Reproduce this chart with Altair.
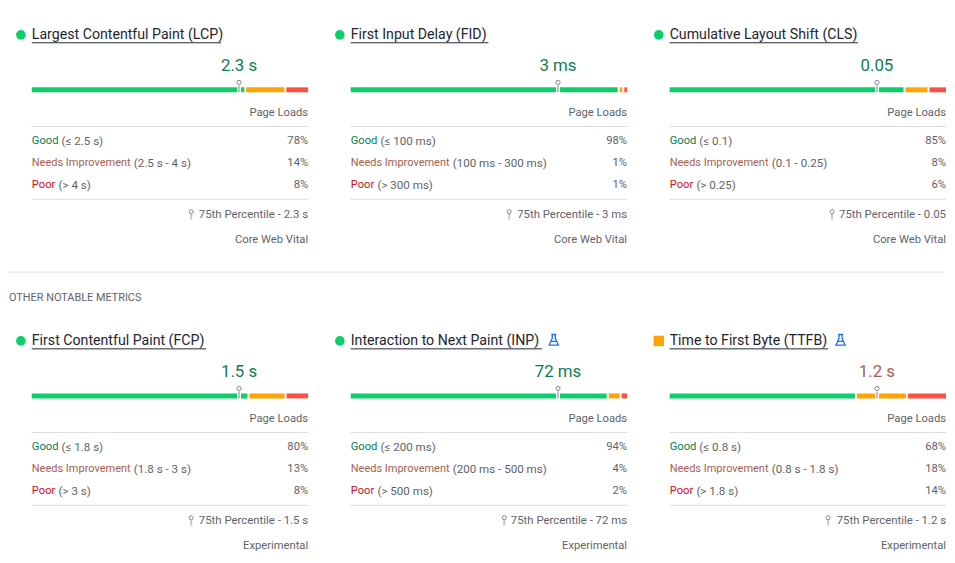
import altair as alt
import pandas as pd

titles = ["Largest Contentful Paint (LCP)", "First Input Delay (FID)", "Cumulative Layout Shift (CLS)",
          "First Contentful Paint (FCP)", "Interaction to Next Paint (INP)", "Time to First Byte (TTFB)"]
p75_values = ["2.3 s", "3 ms", "0.05", "1.5 s", "72 ms", "1.2 s"]
good_ranges = ["(≤ 2.5 s)", "(≤ 100 ms)", "(≤ 0.1)", "(≤ 1.8 s)", "(≤ 200 ms)", "(≤ 0.8 s)"]
ni_ranges = ["(2.5 s - 4 s)", "(100 ms - 300 ms)", "(0.1 - 0.25)", "(1.8 s - 3 s)", "(200 ms - 500 ms)", "(0.8 s - 1.8 s)"]
poor_ranges = ["(> 4 s)", "(> 300 ms)", "(> 0.25)", "(> 3 s)", "(> 500 ms)", "(> 1.8 s)"]
good_pct = [78, 98, 85, 80, 94, 68]
ni_pct = [14, 1, 8, 13, 4, 18]
poor_pct = [8, 1, 6, 8, 2, 14]
p75_position = [75, 75, 75, 75, 75, 75]
footers = ["Core Web Vital"] * 3 + ["Experimental"] * 3
status = ["good", "good", "good", "good", "good", "ni"]
experimental = [False, False, False, False, True, True]

# layout (pixels, not data)
PW, LEFT, GAP = 279, 23, 19
H1, H2 = 240, 234
underline_w = [191, 139, 190, 176, 193, 160]
pin_from_right = [118, 119, 115, 118, 124, 119]
flask_x = [0, 0, 0, 0, 228, 195.5]
GREEN, ORANGE, RED = "#0cce6b", "#ffa400", "#ff4e42"
T_GREEN, T_NI, T_RED, GREY, DARK, LINE = "#0d7c50", "#a5614f", "#d0101e", "#5f6368", "#1f2430", "#dadce0"
FONT = "Roboto"
x_scale = alt.Scale(domain=[-LEFT / PW * 100, 100], range=[0, PW + LEFT], nice=False, zero=False)
FLASK = "M-0.45,-1 L0.45,-1 M-0.28,-1 L-0.28,-0.3 L-0.85,0.95 L0.85,0.95 L0.28,-0.3 L0.28,-1 M-0.5,0.25 L0.5,0.25"


def X(v):
    return alt.X(datum=v, scale=x_scale, axis=None)


def text(t, y, x=100, align="right", color=GREY, size=11.3, dx=0):
    return alt.Chart(pd.DataFrame({"t": [t]})).mark_text(
        align=align, baseline="middle", font=FONT, fontSize=size, color=color, dx=dx
    ).encode(x=X(x), y=alt.value(y), text="t:N")


def hr(y):
    return alt.Chart(pd.DataFrame({"a": [0]})).mark_rule(color=LINE, strokeWidth=1).encode(
        x=X(0), x2=alt.X2(datum=100), y=alt.value(y))


def panel(i, height):
    layers = []
    # status marker
    shape, col, sz = ("circle", GREEN, 95) if status[i] == "good" else ("square", ORANGE, 110)
    layers.append(alt.Chart(pd.DataFrame({"a": [0]})).mark_point(shape=shape, filled=True, color=col, size=sz, opacity=1)
                  .encode(x=alt.value(12), y=alt.value(24.5)))
    layers.append(text(titles[i], 24.3, 0, "left", DARK, 14.3))
    layers.append(alt.Chart(pd.DataFrame({"a": [0]})).mark_rule(color=DARK, strokeWidth=1).encode(
        x=alt.value(LEFT), x2=alt.value(LEFT + underline_w[i]), y=alt.value(32.5)))
    if experimental[i]:
        layers.append(alt.Chart(pd.DataFrame({"a": [0]})).mark_point(
            shape=FLASK, filled=False, color="#1a73e8", strokeWidth=1.3, size=120, opacity=1
        ).encode(x=alt.value(flask_x[i]), y=alt.value(23.5)))
    # p75 value
    vcol = T_GREEN if status[i] == "good" else T_NI
    layers.append(text(p75_values[i], 56.3, p75_position[i], "center", vcol, 17))
    # distribution bar: shares normalised, with 2px gaps
    shares = [good_pct[i], ni_pct[i], poor_pct[i]]
    total = sum(shares)
    gap = 2 / PW * 100
    usable = 100 - 2 * gap
    rows, c = [], 0.0
    for s, name in zip(shares, ["good", "ni", "poor"]):
        w = s / total * usable
        rows.append({"start": c, "end": c + w, "band": name})
        c += w + gap
    layers.append(alt.Chart(pd.DataFrame(rows)).mark_bar(height=5, cornerRadius=0).encode(
        x=alt.X("start:Q", scale=x_scale, axis=None), x2="end:Q",
        y=alt.value(80),
        color=alt.Color("band:N", scale=alt.Scale(domain=["good", "ni", "poor"], range=[GREEN, ORANGE, RED]), legend=None)))
    # marker pin
    pos = p75_position[i]
    one = pd.DataFrame({"a": [0]})
    layers.append(alt.Chart(one).mark_rule(color="white", strokeWidth=4).encode(x=X(pos), y=alt.value(75.5), y2=alt.value(83.5)))
    layers.append(alt.Chart(one).mark_rule(color="#b8c4bd", strokeWidth=2).encode(x=X(pos), y=alt.value(75.5), y2=alt.value(82.5)))
    layers.append(alt.Chart(one).mark_point(shape="circle", filled=True, fill="white", stroke="#80868b", strokeWidth=1, size=18, opacity=1)
                  .encode(x=X(pos), y=alt.value(72.5)))
    layers.append(text("Page Loads", 103))
    layers.append(hr(117))
    # rows
    layers.append(text("Good", 132, 0, "left", T_GREEN))
    layers.append(text(good_ranges[i], 132, 0, "left", GREY, dx=30, size=11.7))
    layers.append(text(f"{good_pct[i]}%", 132))
    layers.append(text("Needs Improvement", 154, 0, "left", T_NI, size=11.1))
    layers.append(text(ni_ranges[i], 154, 0, "left", GREY, dx=103, size=11.7))
    layers.append(text(f"{ni_pct[i]}%", 154))
    layers.append(text("Poor", 176, 0, "left", T_RED))
    layers.append(text(poor_ranges[i], 176, 0, "left", GREY, dx=27, size=11.7))
    layers.append(text(f"{poor_pct[i]}%", 176))
    layers.append(hr(190.5))
    # percentile legend
    px = LEFT + PW - pin_from_right[i]
    layers.append(alt.Chart(one).mark_rule(color="#c4c7c5", strokeWidth=2).encode(x=alt.value(px), y=alt.value(205), y2=alt.value(211)))
    layers.append(alt.Chart(one).mark_point(shape="circle", filled=True, fill="white", stroke="#80868b", strokeWidth=1, size=16, opacity=1)
                  .encode(x=alt.value(px), y=alt.value(203)))
    layers.append(text(f"75th Percentile - {p75_values[i]}", 206, size=11.5))
    layers.append(text(footers[i], 232))
    return alt.layer(*layers).properties(width=PW + LEFT, height=height)


row1 = alt.hconcat(*[panel(i, H1) for i in range(3)], spacing=GAP)
row2 = alt.hconcat(*[panel(i, H2) for i in range(3, 6)], spacing=GAP)

W = 3 * (PW + LEFT) + 2 * GAP
div_scale = alt.Scale(domain=[0, 100], range=[0, W], nice=False)
divider = alt.layer(
    alt.Chart(pd.DataFrame({"a": [0]})).mark_rule(color=LINE, strokeWidth=1).encode(
        x=alt.X(datum=0, scale=div_scale, axis=None), x2=alt.X2(datum=100), y=alt.value(24)),
    alt.Chart(pd.DataFrame({"t": ["OTHER NOTABLE METRICS"]})).mark_text(
        align="left", baseline="middle", font=FONT, fontSize=11, color=GREY
    ).encode(x=alt.X(datum=0, scale=div_scale, axis=None), y=alt.value(50), text="t:N"),
).properties(width=W, height=68.5)

chart = alt.vconcat(row1, divider, row2, spacing=0).properties(padding=0).configure_view(stroke=None)
chart.save("out.html", embed_options={"renderer": "svg", "actions": False})
